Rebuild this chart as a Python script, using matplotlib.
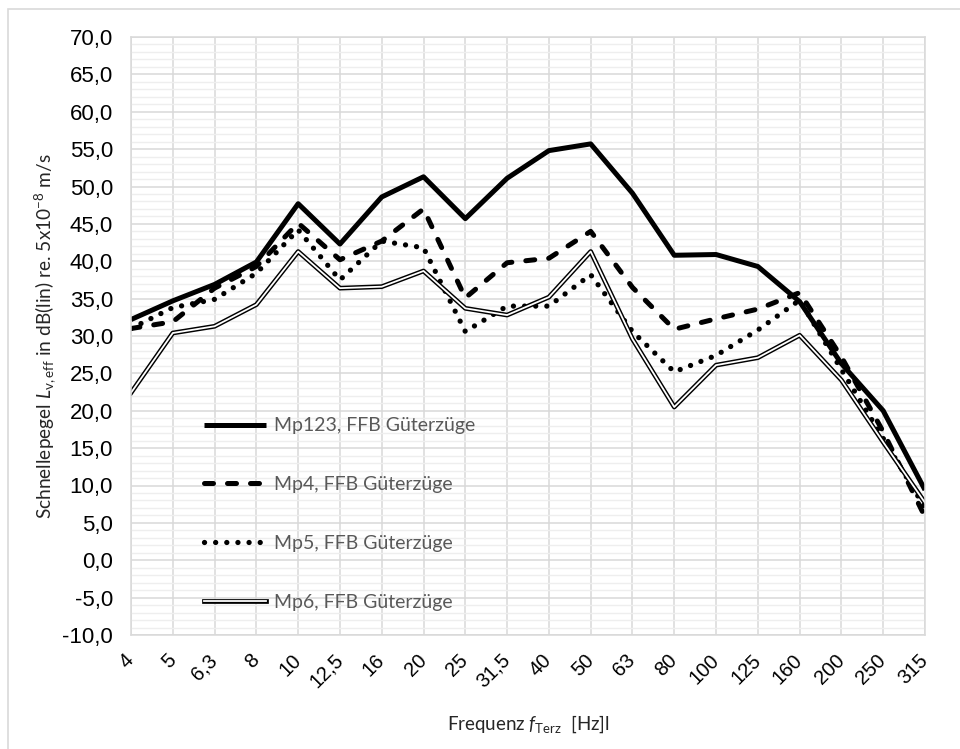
import numpy as np
import matplotlib.pyplot as plt
import matplotlib.patheffects as pe
import matplotlib.transforms as mtransforms
from matplotlib.patches import Rectangle
from matplotlib.ticker import MultipleLocator, FuncFormatter

freqs = ["4", "5", "6,3", "8", "10", "12,5", "16", "20", "25", "31,5",
         "40", "50", "63", "80", "100", "125", "160", "200", "250", "315"]
mp123 = [32.2, 34.7, 36.9, 39.9, 47.7, 42.3, 48.6, 51.3, 45.7, 51.1,
         54.8, 55.7, 49.1, 40.8, 40.9, 39.3, 34.6, 26.3, 20.0, 9.4]
mp4 = [31.0, 31.9, 36.4, 39.3, 45.1, 40.2, 42.7, 47.0, 35.1, 39.8,
       40.4, 44.0, 36.5, 30.9, 32.3, 33.6, 35.8, 27.2, 17.2, 5.8]
mp5 = [31.0, 33.8, 34.9, 38.4, 44.2, 37.5, 42.7, 41.8, 30.6, 34.0,
       34.0, 38.2, 30.6, 25.2, 27.4, 30.8, 34.8, 25.5, 16.3, 7.0]
mp6 = [22.4, 30.4, 31.3, 34.2, 41.3, 36.4, 36.6, 38.7, 33.7, 32.8,
       35.2, 41.3, 29.6, 20.5, 26.1, 27.1, 30.1, 24.1, 15.8, 7.7]
labels = ["Mp123, FFB Güterzüge", "Mp4, FFB Güterzüge",
          "Mp5, FFB Güterzüge", "Mp6, FFB Güterzüge"]

plt.rcParams['mathtext.fontset'] = 'custom'
plt.rcParams['mathtext.rm'] = 'Lato'
plt.rcParams['mathtext.it'] = 'Lato:italic'

fig = plt.figure(figsize=(9.6, 7.49), dpi=100)
ax = fig.add_axes([131/960, 114/749, 794/960, 598/749])

x = np.arange(len(freqs))

ax.plot(x, mp123, color='black', lw=3.6, solid_capstyle='butt',
        label=labels[0])
ax.plot(x, mp4, color='black', lw=3.6, linestyle=(0, (1.8, 2.8)),
        dash_capstyle='round', label=labels[1])
ax.plot(x, mp5, color='black', lw=3.8, linestyle=(0, (0.01, 2.1)),
        dash_capstyle='round', label=labels[2])
ax.plot(x, mp6, color='white', lw=1.3, label=labels[3],
        path_effects=[pe.Stroke(linewidth=3.4, foreground='black'), pe.Normal()])

ax.set_xlim(0, len(freqs) - 1)
ax.set_ylim(-10, 70)
ax.set_xticks(x)
ax.set_xticklabels(freqs, rotation=45, ha='right', va='center',
                   rotation_mode='anchor', fontsize=14.5, family='Liberation Sans')
shift = mtransforms.ScaledTranslation(4/100, 0, fig.dpi_scale_trans)
for t in ax.get_xticklabels():
    t.set_transform(t.get_transform() + shift)
ax.yaxis.set_major_locator(MultipleLocator(5))
ax.yaxis.set_minor_locator(MultipleLocator(1))
ax.yaxis.set_major_formatter(FuncFormatter(lambda v, p: f"{v:.1f}".replace('.', ',')))
for t in ax.get_yticklabels():
    t.set_family('Liberation Sans')
ax.tick_params(axis='y', which='both', length=0, pad=13, labelsize=16)
ax.tick_params(axis='x', length=0, pad=16)

ax.grid(which='major', color='#d9d9d9', lw=1.1)
ax.grid(which='minor', axis='y', color='#eeeeee', lw=1.0)
ax.set_axisbelow(True)
for s in ax.spines.values():
    s.set_color('#d9d9d9')
    s.set_linewidth(1.1)

ax.set_ylabel(r"Schnellepegel $\mathit{L}_{\mathrm{v,eff}}$ in dB(lin) re. 5x10$^{-8}$ m/s",
              family='Lato', fontsize=13.8, color='#262626', labelpad=3)
ax.set_xlabel(r"Frequenz $\mathit{f}_{\mathrm{Terz}}$  [Hz]l",
              family='Lato', fontsize=13.5, color='#262626', labelpad=16)

leg = ax.legend(loc='center left', bbox_to_anchor=(0.092, 0.2023), frameon=False,
                prop={'family': 'Lato', 'size': 14}, handlelength=3.2,
                handletextpad=0.4, labelspacing=2.15, borderpad=0, borderaxespad=0)
for t in leg.get_texts():
    t.set_color('#595959')

fig.patches.append(Rectangle((8/960, -0.1), 1.2, (749 - 9)/749 + 0.1,
                             transform=fig.transFigure, fill=False,
                             edgecolor='#d9d9d9', lw=1.2))

fig.savefig("out.png", dpi=100)
